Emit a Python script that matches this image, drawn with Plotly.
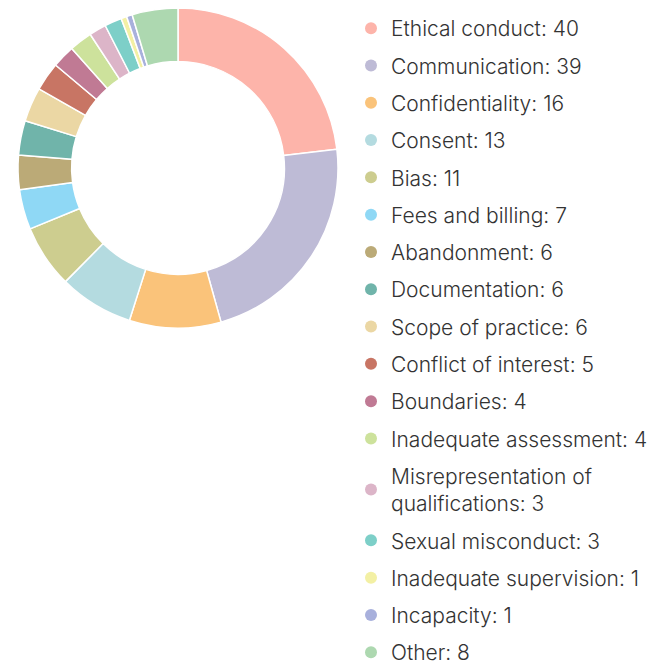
import plotly.graph_objects as go

categories = ["Ethical conduct", "Communication", "Confidentiality", "Consent", "Bias",
              "Fees and billing", "Abandonment", "Documentation", "Scope of practice",
              "Conflict of interest", "Boundaries", "Inadequate assessment",
              "Misrepresentation of qualifications", "Sexual misconduct",
              "Inadequate supervision", "Incapacity", "Other"]
values = [40, 39, 16, 13, 11, 7, 6, 6, 6, 5, 4, 4, 3, 3, 1, 1, 8]
legend_labels = ["Ethical conduct: 40", "Communication: 39", "Confidentiality: 16", "Consent: 13",
                 "Bias: 11", "Fees and billing: 7", "Abandonment: 6", "Documentation: 6",
                 "Scope of practice: 6", "Conflict of interest: 5", "Boundaries: 4",
                 "Inadequate assessment: 4", "Misrepresentation of<br>qualifications: 3",
                 "Sexual misconduct: 3", "Inadequate supervision: 1", "Incapacity: 1", "Other: 8"]
colors = ["#FDB4AA", "#BEBBD6", "#FAC37A", "#B4DBE0", "#CDCD8F", "#8FD8F5", "#BBAA77",
          "#70B4AA", "#EBD7A4", "#C87564", "#C07A94", "#CDE29C", "#DCB5C8", "#7DCFC8",
          "#F3F0A4", "#A8B0DC", "#ADD8B0"]

W, H = 658, 664
fig = go.Figure()
fig.add_trace(go.Pie(
    labels=categories, values=values, sort=False, direction="clockwise", rotation=0,
    hole=0.665, marker=dict(colors=colors, line=dict(color="white", width=1.5)),
    textinfo="none", showlegend=False,
    domain=dict(x=[9 / W, 331 / W], y=[1 - 320 / H, 1]),
))
for i, (lab, col) in enumerate(zip(legend_labels, colors)):
    fig.add_trace(go.Scatter(
        x=[None], y=[None], mode="markers", name=lab,
        marker=dict(symbol="circle", size=17, color=col),
        legendgroup=f"g{i}", showlegend=True,
    ))

fig.update_layout(
    width=W, height=H,
    margin=dict(l=0, r=0, t=0, b=0),
    paper_bgcolor="white", plot_bgcolor="white",
    xaxis=dict(visible=False), yaxis=dict(visible=False),
    font=dict(family="Inter", color="#333333"),
    legend=dict(
        x=343 / W, y=1, xanchor="left", yanchor="top",
        font=dict(size=21, family="Inter", color="#333333", weight=300),
        traceorder="grouped", tracegroupgap=7, itemsizing="constant",
        maxheight=900,
    ),
)
fig.write_html("out.html")
